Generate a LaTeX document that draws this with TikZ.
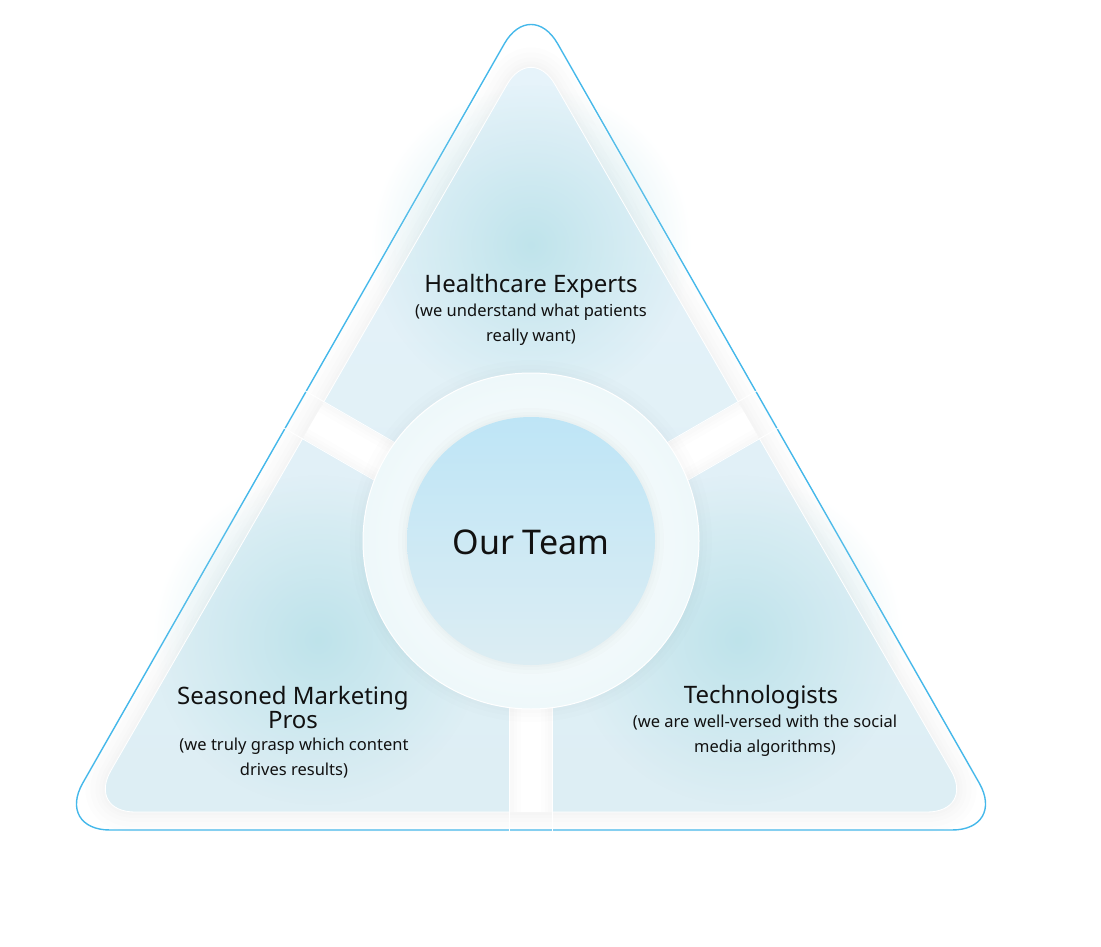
\documentclass[tikz,border=0pt]{standalone}
\usepackage{fontspec}
\setmainfont{Noto Sans}
\usetikzlibrary{fadings}

\definecolor{edgeblue}{HTML}{45B8EA}
\definecolor{pieceTop}{HTML}{E6F3FA}
\definecolor{pieceBot}{HTML}{DDEEF4}
\definecolor{glowteal}{HTML}{B6E0E8}
\definecolor{coreTop}{HTML}{BEE5F6}
\definecolor{coreBot}{HTML}{DCEDF3}
\definecolor{ringEdge}{HTML}{EEF8FA}
\definecolor{inkblack}{HTML}{111111}

\tikzfading[name=glowfade, inner color=transparent!20, outer color=transparent!100]

\tikzset{
  headtext/.style={font=\fontsize{24}{24}\selectfont, text=inkblack, align=center, anchor=base, inner sep=0pt},
  subtext/.style={font=\fontsize{16.5}{24.3}\selectfont, text=inkblack, align=center, anchor=base, inner sep=0pt},
  innertri/.style={rounded corners=48pt},
}

\begin{document}
\begin{tikzpicture}[x=1pt,y=-1pt]
\useasboundingbox (0,0) rectangle (1101,947);

% soft halo round the inner triangle
\foreach \w in {40,30,20,12,6}
  \draw[black, opacity=0.007, line width=\w pt, innertri, line join=round]
    (531,812) -- (975,812) -- (531,43) -- (87,812) -- cycle;

% outer outline
\draw[edgeblue, line width=1.4pt, rounded corners=54pt]
  (531,830) -- (1006,830) -- (531,-3) -- (56,830) -- cycle;

% white base of the inner triangle
\fill[white, innertri] (531,812) -- (975,812) -- (531,43) -- (87,812) -- cycle;

% shadows along the gaps
\begin{scope}
  \clip[innertri] (531,812) -- (975,812) -- (531,43) -- (87,812) -- cycle;
  \foreach \w in {22,14,8}{
    \draw[black, opacity=0.008, line width=\w pt] (21.9,227.8) -- (531,521.7) -- (1040.1,227.8);
    \draw[black, opacity=0.008, line width=\w pt] (0.9,264.2) -- (510,558.1) -- (510,900);
    \draw[black, opacity=0.008, line width=\w pt] (1061.1,264.2) -- (552,558.1) -- (552,900);
  }
\end{scope}

% top piece
\begin{scope}
  \clip (531,521.7) -- (21.9,227.8) -- (21.9,-50) -- (1040.1,-50) -- (1040.1,227.8) -- cycle;
  \shade[top color=pieceTop, bottom color=pieceBot, innertri]
    (531,812) -- (975,812) -- (531,43) -- (87,812) -- cycle;
  \fill[glowteal, path fading=glowfade] (531,245) circle (160);
  \draw[white, line width=1.6pt] (531,521.7) -- (21.9,227.8) (531,521.7) -- (1040.1,227.8);
  \draw[white, line width=0.8pt, innertri] (531,812) -- (975,812) -- (531,43) -- (87,812) -- cycle;
\end{scope}

% bottom left piece
\begin{scope}
  \clip (510,558.1) -- (0.9,264.2) -- (0,900) -- (510,900) -- cycle;
  \shade[top color=pieceTop, bottom color=pieceBot, innertri]
    (531,812) -- (975,812) -- (531,43) -- (87,812) -- cycle;
  \fill[glowteal, path fading=glowfade] (318,640) circle (165);
  \draw[white, line width=1.6pt] (510,900) -- (510,558.1) -- (0.9,264.2);
  \draw[white, line width=0.8pt, innertri] (531,812) -- (975,812) -- (531,43) -- (87,812) -- cycle;
\end{scope}

% bottom right piece
\begin{scope}
  \clip (552,558.1) -- (1061.1,264.2) -- (1101,900) -- (552,900) -- cycle;
  \shade[top color=pieceTop, bottom color=pieceBot, innertri]
    (531,812) -- (975,812) -- (531,43) -- (87,812) -- cycle;
  \fill[glowteal, path fading=glowfade] (738,640) circle (165);
  \draw[white, line width=1.6pt] (552,900) -- (552,558.1) -- (1061.1,264.2);
  \draw[white, line width=0.8pt, innertri] (531,812) -- (975,812) -- (531,43) -- (87,812) -- cycle;
\end{scope}

% ring
\foreach \w in {26,16,8}
  \draw[black, opacity=0.009, line width=\w pt] (531,541) circle (168);
\shade[inner color=white, outer color=ringEdge] (531,541) circle (168);
\draw[white, line width=1pt] (531,541) circle (168);

% core
\foreach \w in {18,10,4}
  \draw[black, opacity=0.01, line width=\w pt] (531,541) circle (124);
\shade[top color=coreTop, bottom color=coreBot] (531,541) circle (124);

% labels
\node[font=\fontsize{34}{40}\selectfont, text=inkblack, anchor=base, inner sep=0pt] (team) at (531,554) {Our Team};

\node[headtext] (health) at (531,292) {Healthcare Experts};
\node[subtext] (healthnote) at (531,341) {(we understand what patients\\really want)};

\node[headtext] (market) at (293,728) {Seasoned Marketing\\Pros};
\node[subtext] (marketnote) at (294,775) {(we truly grasp which content\\drives results)};

\node[headtext] (tech) at (761,703) {Technologists};
\node[subtext] (technote) at (765,752) {(we are well-versed with the social\\media algorithms)};

\end{tikzpicture}
\end{document}
